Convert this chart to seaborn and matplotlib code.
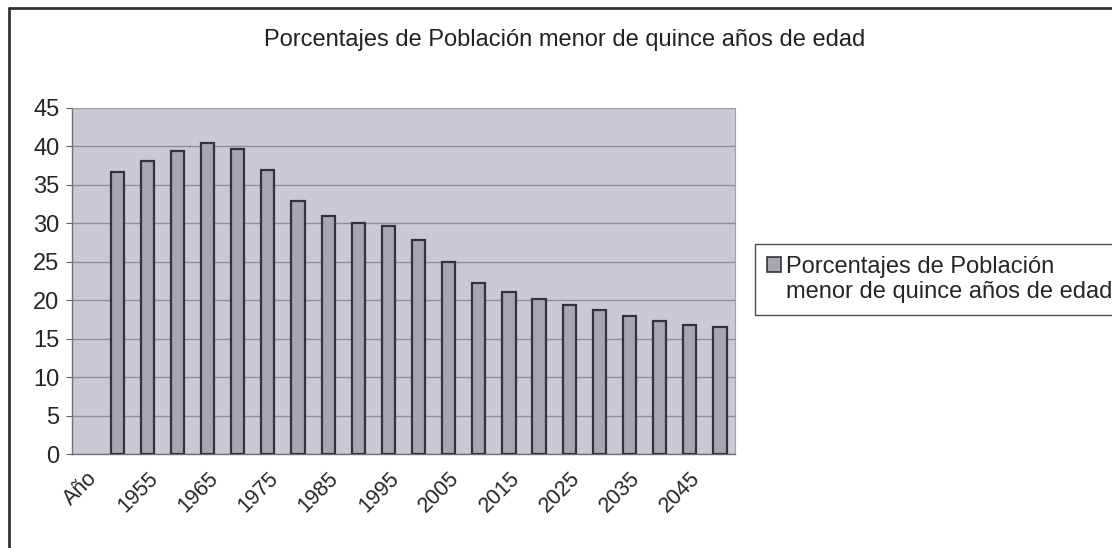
import numpy as np
import pandas as pd
import seaborn as sb
import matplotlib.pyplot as plt
from matplotlib.patches import Patch
from matplotlib.lines import Line2D

# categorias del eje x (la primera es la cabecera "Año", sin valor)
categorias = ['Año'] + [str(a) for a in range(1950, 2051, 5)]
anios = [str(a) for a in range(1950, 2051, 5)]
porcentajes = [36.7, 38.1, 39.4, 40.4, 39.7, 36.9, 32.9, 30.9, 30.0, 29.6, 27.8,
               25.0, 22.3, 21.1, 20.1, 19.4, 18.7, 17.9, 17.3, 16.8, 16.5]
etiquetas = ['Año', '1955', '1965', '1975', '1985', '1995', '2005', '2015', '2025', '2035', '2045']

titulo = 'Porcentajes de Población menor de quince años de edad'

df = pd.DataFrame({'Año': anios, 'Porcentaje': porcentajes})

sb.set_style('white')
plt.rcParams['font.family'] = ['Liberation Sans', 'DejaVu Sans']

fig = plt.figure(figsize=(11.12, 5.48), dpi=100)
ax = fig.add_axes([0.0647, 0.1715, 0.5963, 0.6315])
ax.set_facecolor('#c9cad4')

sb.barplot(data=df, x='Año', y='Porcentaje', order=categorias, ax=ax,
           color='#a6a7b1', edgecolor='#33333f', linewidth=1.6, width=0.44,
           saturation=1, errorbar=None, zorder=3)

ax.set_ylim(0, 45)
ax.set_xlim(-0.5, len(categorias) - 0.5)
ax.set_yticks(np.arange(0, 46, 5))
ax.yaxis.grid(True, color='#8e8e96', linewidth=1, zorder=0)
ax.set_axisbelow(True)

# etiquetas cada dos categorias, marcas entre categorias
pos = [categorias.index(e) for e in etiquetas]
ax.set_xticks(pos)
ax.set_xticklabels(etiquetas, rotation=45, ha='right', rotation_mode='anchor', fontsize=15.5)
ax.set_xticks(np.arange(-0.5, len(categorias), 1), minor=True)
ax.tick_params(axis='x', which='major', length=0, pad=10)
ax.tick_params(axis='x', which='minor', length=5, color='#606060', width=1, direction='out')
ax.tick_params(axis='y', length=4, color='#606060', labelsize=17, pad=5, left=True)
ax.set_xlabel('')
ax.set_ylabel('')

for s in ['top', 'right']:
    ax.spines[s].set_color('#a0a0a8')
    ax.spines[s].set_linewidth(0.8)
for s in ['left', 'bottom']:
    ax.spines[s].set_color('#707078')
    ax.spines[s].set_linewidth(1)

fig.text(0.508, 0.927, titulo, ha='center', va='center', fontsize=17, color='#222222')

lineas = ['Porcentajes de Población', 'menor de quince años de edad']
handles = [Patch(facecolor='#a6a7b1', edgecolor='#33333f', linewidth=1.2),
           Patch(facecolor='none', edgecolor='none')]
leg = fig.legend(handles, lineas, loc='upper left', bbox_to_anchor=(0.679, 0.555),
                 fontsize=17, frameon=True, fancybox=False, handlelength=0.6,
                 handleheight=0.6, handletextpad=0.2, labelspacing=0.15,
                 borderpad=0.5, borderaxespad=0)
leg.get_frame().set_edgecolor('#222222')
leg.get_frame().set_linewidth(1)

# marco exterior del grafico (arriba e izquierda)
fig.add_artist(Line2D([9 / 1112, 1], [1 - 8 / 548, 1 - 8 / 548], transform=fig.transFigure,
                      color='#333333', linewidth=2))
fig.add_artist(Line2D([9 / 1112, 9 / 1112], [0, 1 - 8 / 548], transform=fig.transFigure,
                      color='#333333', linewidth=2))

plt.savefig('out.png', dpi=100)
